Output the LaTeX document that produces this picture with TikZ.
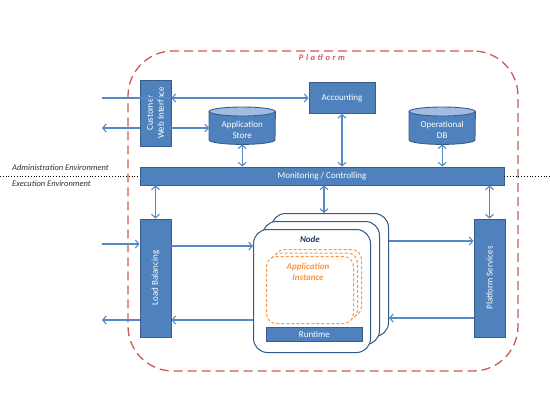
\documentclass[tikz,border=0pt]{standalone}
\usepackage{fontspec}
\setmainfont{Carlito}
\usetikzlibrary{arrows.meta,calc}
\definecolor{boxfill}{RGB}{79,129,189}
\definecolor{boxline}{RGB}{56,93,138}
\definecolor{arrowc}{RGB}{84,137,198}
\definecolor{cyltop}{RGB}{160,188,224}
\definecolor{platred}{RGB}{208,88,86}
\definecolor{orangec}{RGB}{247,150,70}
\definecolor{nodeline}{RGB}{52,88,135}
\definecolor{nodetext}{RGB}{31,56,100}
\definecolor{envtext}{RGB}{50,50,50}
\tikzset{
  every node/.style={font=\fontsize{9}{11}\selectfont, inner sep=0pt},
  bluebox/.style={draw=boxline, fill=boxfill, line width=0.9pt, text=white, align=center},
  cylbox/.style={minimum width=66pt, minimum height=37pt},
  arr/.style={draw=arrowc, line width=1.1pt, -{Straight Barb[length=3.5pt,width=8pt]}},
  arrd/.style={draw=arrowc, line width=1.1pt, {Straight Barb[length=3.5pt,width=8pt]}-{Straight Barb[length=3.5pt,width=8pt]}},
  nodebox/.style={draw=nodeline, fill=white, line width=1pt, rounded corners=14pt, minimum width=117pt, minimum height=123pt},
  instbox/.style={draw=orangec, fill=white, line width=1pt, dash pattern=on 3pt off 2pt, rounded corners=10pt, minimum width=87pt, minimum height=67pt},
  envlabel/.style={text=envtext, font=\fontsize{8.5}{10}\selectfont\itshape, anchor=west},
}
\begin{document}
\begin{tikzpicture}[x=1pt,y=-1pt]
\useasboundingbox (0,0) rectangle (550,413);

% platform boundary
\node[draw=platred, line width=1.3pt, dash pattern=on 9pt off 5pt, rounded corners=45pt,
      minimum width=390pt, minimum height=320pt] (plat) at (323,211) {};
\node[text=platred, font=\fontsize{8.5}{10}\selectfont\bfseries\itshape\addfontfeatures{LetterSpace=30}] (platlbl) at (322,58) {Platform};

% environment separator
\node[envlabel] (admin) at (12,168) {Administration Environment};
\node[envlabel] (exec) at (12,184) {Execution Environment};

% top boxes
\node[bluebox, rotate=90, minimum width=66pt, minimum height=31pt] (cwi) at (155.5,113) {Customer\\Web Interface};
\node[bluebox, minimum width=66pt, minimum height=31pt] (acc) at (342,98) {Accounting};

% cylinders
\node[cylbox, anchor=north west] (store) at (209,107) {};
\node[cylbox, anchor=north west] (opdb) at (409,107) {};
\foreach \c in {store,opdb}{
  \filldraw[fill=boxfill, draw=boxline, line width=0.9pt]
    ([yshift=-4.5pt]\c.north west) -- ([yshift=4.5pt]\c.south west)
    arc[start angle=180, end angle=360, x radius=33pt, y radius=4.5pt]
    -- ([yshift=-4.5pt]\c.north east) -- cycle;
  \filldraw[fill=cyltop, draw=boxline, line width=0.9pt]
    ([yshift=-4.5pt]\c.north) ellipse [x radius=33pt, y radius=4.5pt];
}
\node[text=white, align=center] (storetxt) at ([yshift=-4pt]store.center) {Application\\Store};
\node[text=white, align=center] (opdbtxt) at ([yshift=-4pt]opdb.center) {Operational\\DB};

% monitoring bar
\node[bluebox, minimum width=364pt, minimum height=18pt] (mon) at (322,176) {Monitoring / Controlling};
\coordinate (dl) at (0,176);
\coordinate (dr) at (550,176);
\draw[dotted, line width=0.8pt] (dl) -- (mon.west);
\draw[dotted, line width=0.8pt] (mon.east) -- (dr);

% lower side boxes
\node[bluebox, rotate=90, minimum width=118pt, minimum height=31pt] (lb) at (155.5,278) {Load Balancing};
\node[bluebox, rotate=90, minimum width=118pt, minimum height=31pt] (ps) at (489.5,278) {Platform Services};

% node stack
\node[nodebox, anchor=north west] (nodeC) at (271,213) {};
\node[nodebox, anchor=north west] (nodeB) at (262,221) {};
\node[nodebox, anchor=north west] (nodeA) at (253,229) {};
\node[text=nodetext, font=\fontsize{9}{11}\selectfont\bfseries\itshape] (nodelbl) at (310,239) {Node};
\node[instbox, anchor=north west] (instC) at (274,249) {};
\node[instbox, anchor=north west] (instB) at (270,252.5) {};
\node[instbox, anchor=north west] (instA) at (266,256) {};
\node[text=orangec, align=center, font=\fontsize{9}{11}\selectfont\bfseries\itshape] (instlbl) at (308,272) {Application\\Instance};
\node[bluebox, minimum width=96pt, minimum height=14pt, anchor=north west] (rt) at (266,327) {Runtime};

% arrows top
\coordinate (inA) at (102,98);
\coordinate (outA) at (102,128);
\draw[arr] (inA) -- (inA -| cwi.south);
\draw[arr] (outA -| cwi.north) -- (outA);
\draw[arrd] (cwi.south |- acc.west) -- (acc.west);
\draw[arr] (cwi.south |- outA) -- (store.west |- outA);
\draw[arrd] (store.south) -- (store.south |- mon.north);
\draw[arrd] (acc.south) -- (acc.south |- mon.north);
\draw[arrd] (opdb.south) -- (opdb.south |- mon.north);

% arrows below monitoring
\draw[arrd] (mon.south -| lb.east) -- (lb.east);
\draw[arrd] ([xshift=-6pt]nodeC.north |- mon.south) -- ([xshift=-6pt]nodeC.north);
\draw[arrd] (mon.south -| ps.east) -- (ps.east);

% arrows lower row
\coordinate (inB) at (102,244);
\coordinate (outB) at (102,320);
\coordinate (r1) at (0,246);
\coordinate (r2) at (0,320);
\coordinate (r3) at (0,241);
\coordinate (r4) at (0,318);
\draw[arr] (inB) -- (inB -| lb.north);
\draw[arr] (lb.south |- r1) -- (nodeA.west |- r1);
\draw[arr] (nodeA.west |- r2) -- (lb.south |- r2);
\draw[arr] (lb.north |- r2) -- (outB);
\draw[arr] (nodeC.east |- r3) -- (ps.north |- r3);
\draw[arr] (ps.north |- r4) -- (nodeC.east |- r4);
\end{tikzpicture}
\end{document}
